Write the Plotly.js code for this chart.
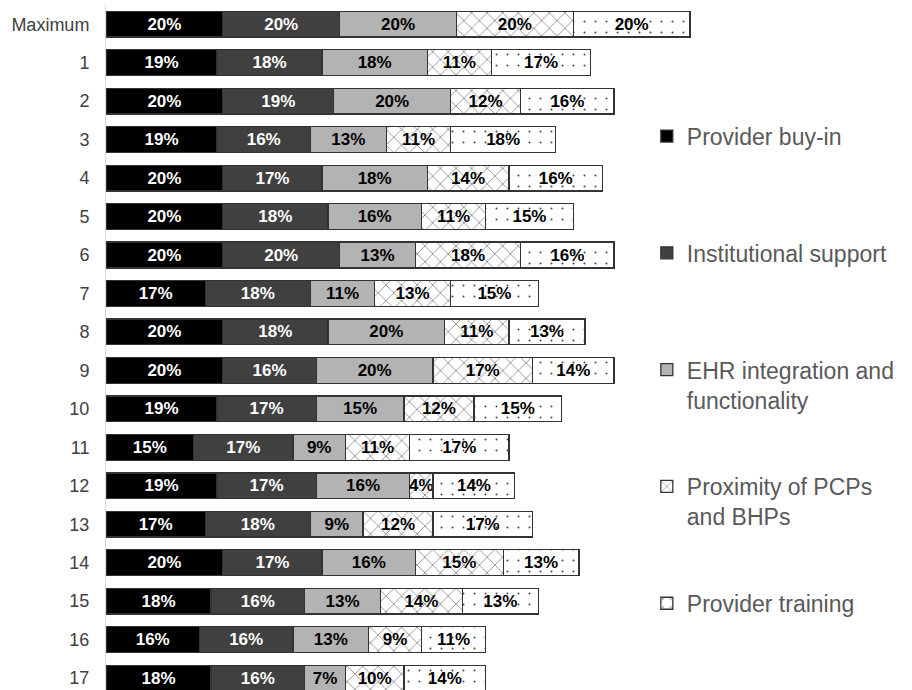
<!DOCTYPE html>
<html>
<head>
<meta charset="utf-8">
<script src="https://cdn.plot.ly/plotly-3.0.1.min.js"></script>
<style>html,body{margin:0;padding:0;background:#fff;}#chart{width:912px;height:690px;}</style>
</head>
<body>
<div id="chart"></div>
<script>
const categories = ['Maximum','1','2','3','4','5','6','7','8','9','10','11','12','13','14','15','16','17'];
const seriesNames = ['Provider buy-in','Institutional support','EHR integration and<br>functionality','Proximity of PCPs<br>and BHPs','Provider training'];
const providerBuyIn = [20,19,20,19,20,20,20,17,20,20,19,15,19,17,20,18,16,18];
const institutionalSupport = [20,18,19,16,17,18,20,18,18,16,17,17,17,18,17,16,16,16];
const ehrIntegration = [20,18,20,13,18,16,13,11,20,20,15,9,16,9,16,13,13,7];
const proximity = [20,11,12,11,14,11,18,13,11,17,12,11,4,12,15,14,9,10];
const providerTraining = [20,17,16,18,16,15,16,15,13,14,15,17,14,17,13,13,11,14];

const seriesValues = [providerBuyIn, institutionalSupport, ehrIntegration, proximity, providerTraining];
const styles = [
  {color:'#000000', text:'#ffffff'},
  {color:'#404040', text:'#ffffff'},
  {color:'#b3b3b3', text:'#000000'},
  {color:'#707070', text:'#000000', pattern:{shape:'x', bgcolor:'#ffffff', fgcolor:'#707070', size:11, solidity:0.12}},
  {color:'#444444', text:'#000000', pattern:{shape:'.', bgcolor:'#ffffff', fgcolor:'#444444', size:11, solidity:0.025}}
];
const FONT = 'Liberation Sans, Arial, sans-serif';

const traces = seriesValues.map((vals, i) => {
  const s = styles[i];
  const marker = {color: s.color, line: {color:'#333333', width:1.3}};
  if (s.pattern) marker.pattern = s.pattern;
  // pad single-line names with an empty second line so entries are evenly spaced
  const nm = seriesNames[i].indexOf('<br>') >= 0 ? seriesNames[i] : seriesNames[i] + '<br> ';
  return {
    type:'bar', orientation:'h', name:nm, legendgroup:'g'+i,
    y: categories, x: vals,
    marker: marker,
    text: vals.map(v => v + '%'), textposition:'inside', insidetextanchor:'middle',
    textangle:0, constraintext:'none',
    insidetextfont:{family:FONT, size:17, color:s.text, weight:'bold'},
    hoverinfo:'skip'
  };
});

const layout = {
  width:912, height:690,
  margin:{l:106, r:0, t:5, b:0, pad:0},
  paper_bgcolor:'#ffffff', plot_bgcolor:'#ffffff',
  barmode:'stack', bargap:0.33,
  showlegend:true,
  legend:{
    x:0.671, xanchor:'left', y:0.840, yanchor:'top',
    traceorder:'grouped', tracegroupgap:54, valign:'top',
    font:{family:FONT, size:23, color:'#595959'},
    bgcolor:'rgba(0,0,0,0)', itemclick:false
  },
  xaxis:{visible:false, range:[0,138], fixedrange:true},
  yaxis:{
    type:'category', range:[17.31,-0.5],
    showline:true, linecolor:'#d9d9d9', linewidth:1,
    showgrid:false, zeroline:false, ticks:'',
    ticklabelstandoff:12,
    tickfont:{family:FONT, size:18, color:'#404040'}
  },
  font:{family:FONT}
};

Plotly.newPlot('chart', traces, layout, {displayModeBar:false, staticPlot:true});
</script>
</body>
</html>
